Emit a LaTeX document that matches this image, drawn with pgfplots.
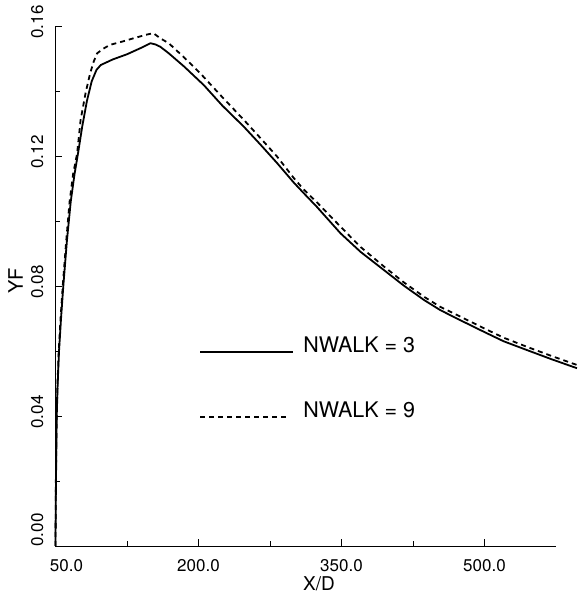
\documentclass[border=0pt]{standalone}
\usepackage{pgfplots}
\pgfplotsset{compat=1.18}
\usepackage{fontspec}
\setmainfont{TeX Gyre Heros}
\begin{document}
\begin{tikzpicture}
\path[use as bounding box] (-55.5pt,-48pt) rectangle (522.5pt,546pt);
\begin{axis}[
  scale only axis, width=500.5pt, height=520pt,
  xmin=50, xmax=575, ymin=0, ymax=0.16,
  axis x line*=bottom, axis y line*=left,
  axis line style={-, line width=1pt},
  xtick={50,200,350,500}, minor xtick={125,275,425},
  ytick={0,0.04,0.08,0.12,0.16}, minor ytick={0.02,0.06,0.1,0.14},
  xticklabels={\hspace{22pt}50.0,200.0,350.0,500.0},
  yticklabels={\hspace{32pt}0.00,\hspace{8pt}0.04,\hspace{8pt}0.08,\hspace{8pt}0.12,\hspace{8pt}0.16},
  tick align=inside, major tick length=7pt, minor tick length=5pt,
  tick style={line width=0.7pt, black},
  clip=false,
  xticklabel style={anchor=north, inner sep=0pt, font=\fontsize{17}{20}\selectfont},
  xticklabel shift=13pt,
  yticklabel style={rotate=90, anchor=south, inner sep=0pt, font=\fontsize{17}{20}\selectfont},
  yticklabel shift=12pt,
  xlabel={X/D}, ylabel={YF},
  xlabel style={at={(axis description cs:0.5265,-0.0725)}, anchor=center, inner sep=0pt, font=\fontsize{19}{22}\selectfont},
  ylabel style={at={(axis description cs:-0.0799,0.5096)}, anchor=center, rotate=0, inner sep=0pt, font=\fontsize{20}{24}\selectfont},
]
\addplot[black, line width=1.8pt] coordinates {
(50,0) (50.2,0.01) (50.5,0.02) (50.9,0.03) (51.3,0.04) (52.3,0.05) (53.7,0.06)
(55.8,0.07) (58.2,0.08) (62,0.094) (66,0.106) (70,0.1145) (74,0.1215) (78,0.129)
(83,0.137) (88,0.143) (93,0.1465) (97.5,0.148) (110,0.1497) (125,0.1513) (140,0.1533)
(149.7,0.1547) (155,0.1543) (160,0.1536) (168.8,0.1516) (185,0.1475) (205.6,0.1418)
(225,0.1355) (247.6,0.129) (265,0.1235) (282.5,0.1178) (300,0.1118) (310.6,0.1085)
(324,0.1044) (349,0.0962) (370,0.0905) (394.5,0.0849) (415,0.0802) (436.5,0.0757)
(453.5,0.0726) (471,0.070) (499.4,0.0659) (520,0.063) (544.4,0.0603) (570,0.0575) (597,0.0547)
};
\addplot[black, line width=1.8pt, dash pattern=on 5pt off 4pt] coordinates {
(50,0) (50.2,0.01) (50.4,0.02) (50.8,0.03) (51.2,0.04) (52.1,0.05) (53.4,0.06)
(55.3,0.07) (57.6,0.08) (61,0.093) (64.8,0.106) (68.5,0.1145) (72.7,0.1208) (76.3,0.131)
(81.5,0.1393) (86.3,0.1454) (90,0.149) (93.7,0.1516) (100,0.153) (107.2,0.1542)
(120,0.1552) (131.6,0.1562) (145,0.1573) (152.6,0.1578) (160,0.1562) (168.8,0.1547)
(185,0.1503) (202,0.1454) (225,0.1381) (247.6,0.1311) (265,0.1255) (282.5,0.1198)
(300,0.1132) (310,0.1098) (324,0.1058) (352.5,0.0972) (370,0.092) (394.5,0.086)
(415,0.0812) (436.5,0.0767) (453.5,0.0736) (471,0.0711) (499.4,0.067) (520,0.0641)
(544.4,0.0613) (570,0.0585) (597,0.0557)
};
% legend
\addplot[black, line width=1.8pt, forget plot] coordinates {(201.6,0.0598) (299,0.0598)};
\addplot[black, line width=1.8pt, dash pattern=on 5pt off 4pt, forget plot] coordinates {(201.6,0.0398) (296,0.0398)};
\node[anchor=base west, inner sep=0pt, font=\fontsize{21.5}{24}\selectfont] at (axis cs:309.7,0.0594) {NWALK = 3};
\node[anchor=base west, inner sep=0pt, font=\fontsize{21.5}{24}\selectfont] at (axis cs:309.7,0.0394) {NWALK = 9};
\end{axis}
\end{tikzpicture}
\end{document}
